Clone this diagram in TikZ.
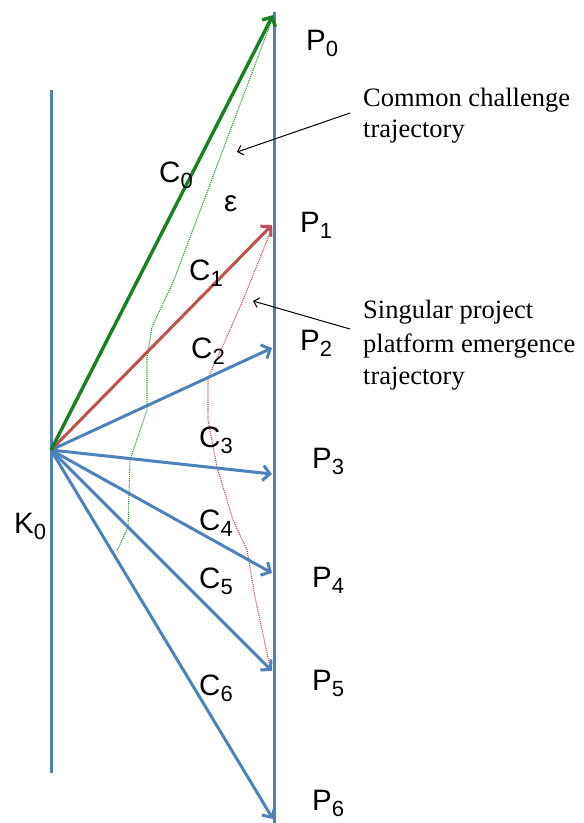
\documentclass[tikz,border=0pt]{standalone}
\usepackage{fontspec}
\setmainfont{Liberation Sans}
\newfontfamily\annfont{Liberation Serif}
\usetikzlibrary{arrows.meta}
\definecolor{pblue}{RGB}{79,129,189}
\definecolor{pgreen}{RGB}{22,130,32}
\definecolor{pred}{RGB}{192,80,77}
\definecolor{dgreen}{RGB}{40,150,40}
\newcommand{\lbl}[2]{\fontsize{29.5}{29.5}\selectfont #1\raisebox{-6pt}{\fontsize{22}{22}\selectfont #2}}
\begin{document}
\begin{tikzpicture}[x=1pt,y=-1pt,
  axis/.style={pblue, line width=3pt},
  vec/.style={line width=3pt, -{Straight Barb[length=7pt,width=15pt]}},
  traj/.style={line width=1.1pt, densely dotted},
  lab/.style={anchor=base west, inner sep=0pt},
  ann/.style={anchor=base west, inner sep=0pt, font=\annfont\fontsize{26.5}{32}\selectfont},
  pointer/.style={line width=1pt, -{Straight Barb[length=5pt,width=10pt]}}]
\useasboundingbox (0,0) rectangle (584,823);
% axes
\coordinate (Ltop) at (51,90);
\coordinate (Lbot) at (51,773);
\coordinate (Rtop) at (274,12);
\coordinate (Rbot) at (274,823);
\draw[axis] (Ltop) -- (Lbot);
\draw[axis] (Rtop) -- (Rbot);
% origin and tips
\coordinate (K) at (51,450);
\coordinate (t0) at (273,15);
\coordinate (t1) at (272,225);
\coordinate (t2) at (272,348);
\coordinate (t3) at (272,474);
\coordinate (t4) at (272,573);
\coordinate (t5) at (272,671);
\coordinate (t6) at (273,819);
% trajectories (dotted)
\draw[traj, dgreen] (273,17) -- (174,280) -- (152,327) -- (147,357) -- (147,410) -- (130,460) -- (128,527) -- (117,551);
\draw[traj, pred] (272,228) -- (243,300) -- (230,330) -- (208,378) -- (208,420) -- (217,467) -- (233,520) -- (247,550) -- (255,597) -- (270,667);
% vectors
\draw[vec, pblue] (K) -- (t2);
\draw[vec, pblue] (K) -- (t3);
\draw[vec, pblue] (K) -- (t4);
\draw[vec, pblue] (K) -- (t5);
\draw[vec, pblue] (K) -- (t6);
\draw[vec, pred] (K) -- (t1);
\draw[vec, pgreen, line width=3.4pt] (K) -- (t0);
% P labels
\node[lab] (P0) at (306,50) {\lbl{P}{0}};
\node[lab] (P1) at (300,232) {\lbl{P}{1}};
\node[lab] (P2) at (300,350) {\lbl{P}{2}};
\node[lab] (P3) at (312,468) {\lbl{P}{3}};
\node[lab] (P4) at (312,587) {\lbl{P}{4}};
\node[lab] (P5) at (312,690) {\lbl{P}{5}};
\node[lab] (P6) at (312,810) {\lbl{P}{6}};
% C labels
\node[lab] (C0) at (159,182) {\lbl{C}{0}};
\node[lab] (C1) at (189,280) {\lbl{C}{1}};
\node[lab] (C2) at (191,358) {\lbl{C}{2}};
\node[lab] (C3) at (199,447) {\lbl{C}{3}};
\node[lab] (C4) at (199,530) {\lbl{C}{4}};
\node[lab] (C5) at (199,588) {\lbl{C}{5}};
\node[lab] (C6) at (199,695) {\lbl{C}{6}};
\node[lab] (K0) at (14,533) {\lbl{K}{0}};
\node[lab] (eps) at (224,211) {\fontsize{29.5}{29.5}\selectfont ε};
% annotations
\node[ann] (a1) at (363,106) {Common challenge};
\node[ann] (a2) at (363,137) {trajectory};
\node[ann] (b1) at (363,318) {Singular project};
\node[ann] (b2) at (363,352) {platform emergence};
\node[ann] (b3) at (363,384) {trajectory};
\coordinate (a1s) at (350,113);
\coordinate (a1e) at (237,152);
\coordinate (b1s) at (350,329);
\coordinate (b1e) at (253,301);
\draw[pointer] (a1s) -- (a1e);
\draw[pointer] (b1s) -- (b1e);
\end{tikzpicture}
\end{document}
